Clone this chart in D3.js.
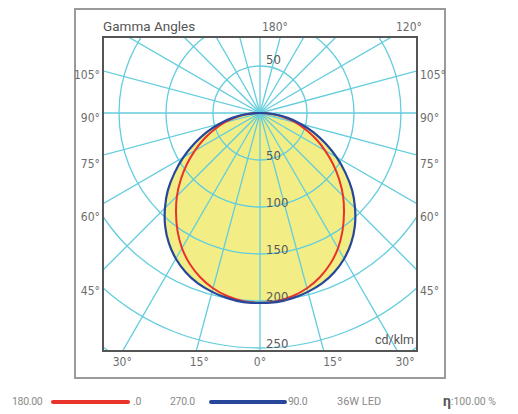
<!DOCTYPE html>
<html>
<head>
<meta charset="utf-8">
<script src="https://cdn.jsdelivr.net/npm/d3@7"></script>
<style>
  html, body { margin: 0; padding: 0; background: #fff; }
  svg { display: block; }
</style>
</head>
<body>
<svg id="chart" width="518" height="414"></svg>
<script>
// ---- data (cd/klm) ----
const gammaAngles = [0, 5, 10, 15, 20, 25, 30, 35, 40, 45, 50, 55, 60, 65, 70, 75, 80, 85, 90];
const c0_180 =     [202, 201, 198, 193, 186, 177, 166, 153, 139, 125, 110, 95, 80, 66, 52, 39, 26, 13, 0];
const c90_270 =    [202, 202, 200, 197, 193, 187, 179, 169, 157, 143, 128, 111, 94, 77, 61, 45, 30, 15, 0];
const ringValues = [50, 100, 150, 200, 250, 300];
const ringLabels = ["50", "100", "150", "200", "250"];
const spokeAngles = d3.range(0, 360, 15);
const sideLabelAngles = [105, 90, 75, 60, 45];
const bottomLabelAngles = [-30, -15, 0, 15, 30];
const topLabelAngles = [180, 120];
const legendItems = [
  { left: "180.00", right: ".0", color: "#e8332b" },
  { left: "270.0", right: "90.0", color: "#26479a" }
];
const lampText = "36W LED";
const etaText = "100.00 %";

// ---- layout ----
const svg = d3.select("#chart");
const plot = { x0: 103, y0: 37, x1: 417, y1: 351 };
const cx = (plot.x0 + plot.x1) / 2, cy = 113;
const r = d3.scaleLinear().domain([0, 250]).range([0, 235]);
const gridColor = "#63cddd";
const textColor = "#6d6d6d";
const fontFam = "'Liberation Sans Narrow', 'DejaVu Sans Condensed', Roboto, sans-serif";
const rad = d => d * Math.PI / 180;

// outer frame
svg.append("rect").attr("x", 75).attr("y", 9).attr("width", 370).attr("height", 369)
  .attr("fill", "none").attr("stroke", "#9a9a9a").attr("stroke-width", 2);

svg.append("defs").append("clipPath").attr("id", "clip")
  .append("rect").attr("x", plot.x0).attr("y", plot.y0)
  .attr("width", plot.x1 - plot.x0).attr("height", plot.y1 - plot.y0);

const g = svg.append("g").attr("clip-path", "url(#clip)");
const center = g.append("g").attr("transform", `translate(${cx},${cy})`);

// curve builders: gamma measured from nadir (down)
function closedPoints(vals) {
  const right = gammaAngles.map((ga, i) => [Math.PI - rad(ga), r(vals[i])]);
  const left = gammaAngles.slice().reverse().map((ga, j) => {
    const i = gammaAngles.length - 1 - j;
    return [Math.PI + rad(ga), r(vals[i])];
  });
  return right.concat(left.slice(1, -1));
}
const radial = d3.lineRadial().angle(d => d[0]).radius(d => d[1]).curve(d3.curveCatmullRomClosed);

// fill
center.append("path").attr("d", radial(closedPoints(c90_270)))
  .attr("fill", "#f2ee85").attr("stroke", "none");

// rings
center.selectAll("circle.ring").data(ringValues).join("circle")
  .attr("r", d => r(d)).attr("fill", "none")
  .attr("stroke", gridColor).attr("stroke-width", 1.3);

// spokes
center.selectAll("line.spoke").data(spokeAngles).join("line")
  .attr("x1", 0).attr("y1", 0)
  .attr("x2", d => 420 * Math.sin(rad(d)))
  .attr("y2", d => 420 * Math.cos(rad(d)))
  .attr("stroke", gridColor).attr("stroke-width", 1.3);

// curves
center.append("path").attr("d", radial(closedPoints(c0_180)))
  .attr("fill", "none").attr("stroke", legendItems[0].color).attr("stroke-width", 2);
center.append("path").attr("d", radial(closedPoints(c90_270)))
  .attr("fill", "none").attr("stroke", legendItems[1].color).attr("stroke-width", 2.2);

// plot frame
svg.append("rect").attr("x", plot.x0).attr("y", plot.y0)
  .attr("width", plot.x1 - plot.x0).attr("height", plot.y1 - plot.y0)
  .attr("fill", "none").attr("stroke", "#555").attr("stroke-width", 2);

// ring labels
svg.selectAll("text.ring").data(ringLabels).join("text")
  .attr("x", cx + 6).attr("y", d => cy + r(+d) - 4)
  .attr("dominant-baseline", "middle")
  .attr("font-family", fontFam).attr("font-size", 13).attr("fill", "#5a5a5a")
  .text(d => d);
svg.append("text").attr("x", cx + 6).attr("y", cy - r(50) - 6)
  .attr("dominant-baseline", "middle")
  .attr("font-family", fontFam).attr("font-size", 13).attr("fill", "#5a5a5a")
  .text(ringLabels[0]);

// side labels
const sideDx = 173;
sideLabelAngles.forEach(a => {
  const y = cy + sideDx / Math.tan(rad(a)) + 5 + (a > 90 ? 4 : 0);
  svg.append("text").attr("x", plot.x0 - 3).attr("y", y).attr("text-anchor", "end")
    .attr("dominant-baseline", "middle")
    .attr("font-family", fontFam).attr("font-size", 12).attr("fill", textColor).text(a + "°");
  svg.append("text").attr("x", plot.x1 + 3).attr("y", y).attr("text-anchor", "start")
    .attr("dominant-baseline", "middle")
    .attr("font-family", fontFam).attr("font-size", 12).attr("fill", textColor).text(a + "°");
});

// bottom labels
const bottomY = 362;
bottomLabelAngles.forEach(a => {
  let x = cx + (bottomY - cy) * Math.tan(rad(a)) + (a === 0 ? 0 : 6);
  x = Math.max(plot.x0 + 12, Math.min(plot.x1 - 12, x));
  svg.append("text").attr("x", x).attr("y", bottomY).attr("text-anchor", "middle")
    .attr("dominant-baseline", "middle")
    .attr("font-family", fontFam).attr("font-size", 12).attr("fill", textColor).text(Math.abs(a) + "°");
});

// top labels
const topY = 27;
topLabelAngles.forEach(a => {
  if (a === 180) {
    svg.append("text").attr("x", cx + 2).attr("y", topY).attr("text-anchor", "start")
      .attr("dominant-baseline", "middle")
      .attr("font-family", fontFam).attr("font-size", 12).attr("fill", textColor).text(a + "°");
  } else {
    const x = cx + (cy - topY) * Math.tan(rad(180 - a));
    svg.append("text").attr("x", x).attr("y", topY).attr("text-anchor", "middle")
      .attr("dominant-baseline", "middle")
      .attr("font-family", fontFam).attr("font-size", 12).attr("fill", textColor).text(a + "°");
  }
});
svg.append("text").attr("x", plot.x0).attr("y", topY).attr("dominant-baseline", "middle")
  .attr("font-family", "Roboto, sans-serif").attr("font-size", 13.5).attr("fill", "#555")
  .text("Gamma Angles");

svg.append("text").attr("x", plot.x1 - 3).attr("y", plot.y1 - 10).attr("text-anchor", "end")
  .attr("dominant-baseline", "middle")
  .attr("font-family", "Roboto, sans-serif").attr("font-size", 12.5).attr("fill", "#555")
  .text("cd/klm");

// legend
const legY = 402;
const legFont = "Roboto, sans-serif";
const legPos = [{ t0: 12, l0: 53, l1: 128, t1: 133 }, { t0: 170, l0: 211, l1: 285, t1: 288 }];
legendItems.forEach((it, i) => {
  const p = legPos[i];
  svg.append("text").attr("x", p.t0).attr("y", legY).attr("dominant-baseline", "middle")
    .attr("font-family", legFont).attr("font-size", 10.5).attr("fill", "#8a8a8a").attr("letter-spacing", -0.3).text(it.left);
  svg.append("line").attr("x1", p.l0).attr("x2", p.l1).attr("y1", legY).attr("y2", legY)
    .attr("stroke", it.color).attr("stroke-width", 4).attr("stroke-linecap", "round");
  svg.append("text").attr("x", p.t1).attr("y", legY).attr("dominant-baseline", "middle")
    .attr("font-family", legFont).attr("font-size", 10.5).attr("fill", "#8a8a8a").attr("letter-spacing", -0.3).text(it.right);
});
svg.append("text").attr("x", 337).attr("y", legY).attr("dominant-baseline", "middle")
  .attr("font-family", legFont).attr("font-size", 11).attr("fill", "#8a8a8a").text(lampText);
const eta = svg.append("text").attr("x", 443).attr("y", legY).attr("dominant-baseline", "middle")
  .attr("font-family", legFont).attr("fill", "#8a8a8a");
eta.append("tspan").attr("font-size", 14).attr("font-weight", "bold").attr("fill", "#555").text("η");
eta.append("tspan").attr("font-size", 10.5).text(":" + etaText);
</script>
</body>
</html>
